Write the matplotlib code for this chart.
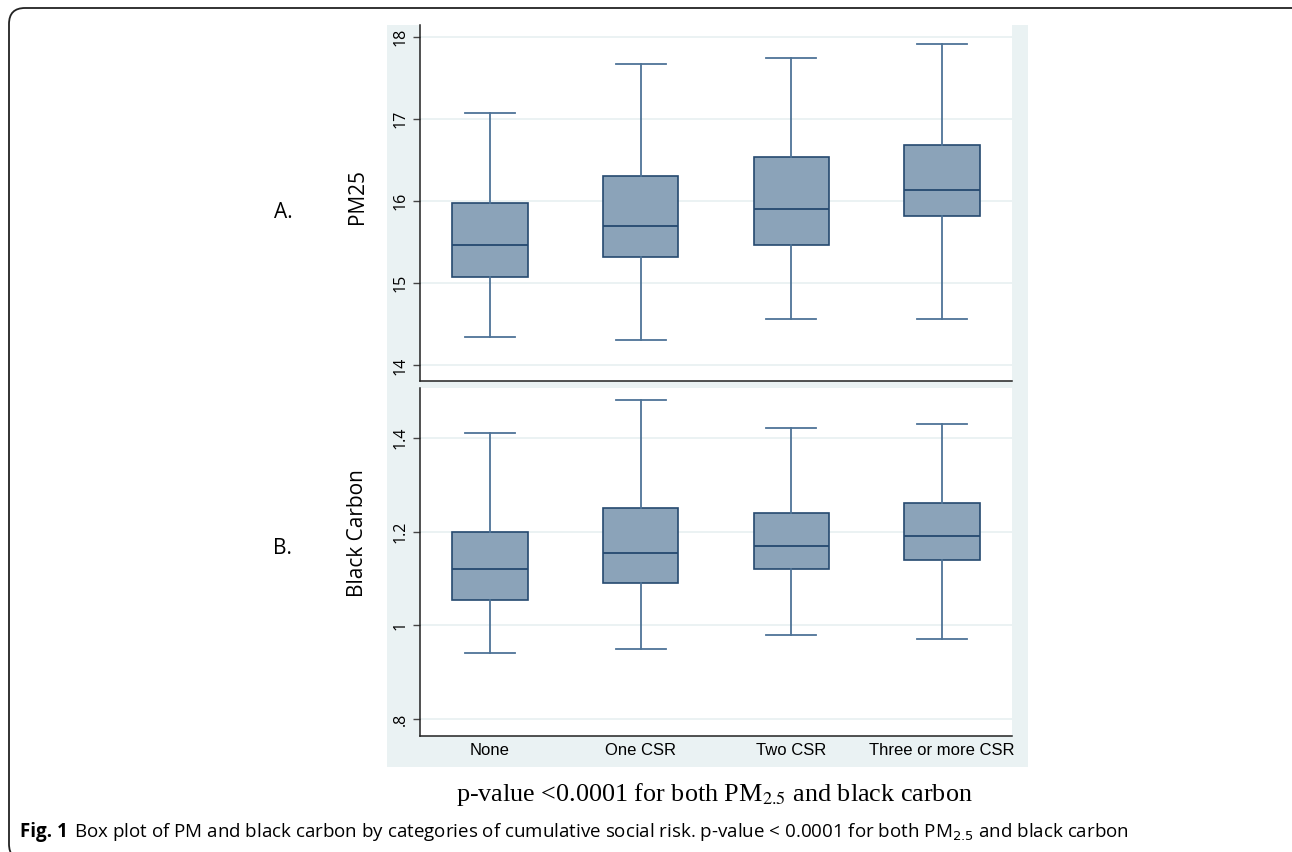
import matplotlib
matplotlib.use("Agg")
import matplotlib.pyplot as plt
from matplotlib.patches import Rectangle, FancyBboxPatch
from matplotlib.transforms import IdentityTransform

categories = ["None", "One CSR", "Two CSR", "Three or more CSR"]

# PM2.5 box statistics
pm_whislo = [14.35, 14.31, 14.56, 14.57]
pm_q1 = [15.08, 15.32, 15.46, 15.82]
pm_med = [15.46, 15.69, 15.90, 16.13]
pm_q3 = [15.97, 16.30, 16.53, 16.68]
pm_whishi = [17.07, 17.66, 17.74, 17.91]
pm_ticks = [14, 15, 16, 17, 18]
pm_ticklabels = ["14", "15", "16", "17", "18"]

# Black carbon box statistics
bc_whislo = [0.94, 0.95, 0.98, 0.97]
bc_q1 = [1.055, 1.09, 1.12, 1.14]
bc_med = [1.12, 1.155, 1.17, 1.19]
bc_q3 = [1.20, 1.25, 1.24, 1.26]
bc_whishi = [1.41, 1.48, 1.42, 1.43]
bc_ticks = [0.8, 1.0, 1.2, 1.4]
bc_ticklabels = [".8", "1", "1.2", "1.4"]

W, H = 1292, 852
fig = plt.figure(figsize=(W / 100, H / 100), dpi=100)
fig.patch.set_facecolor("white")

def fx(px):
    return px / W

def fy(py):
    return 1 - py / H

# Rounded outer border (pixel coordinates, origin bottom-left)
border = FancyBboxPatch((9, H - 860), 1300, 860 - 8,
                        boxstyle="round,pad=0,rounding_size=16",
                        transform=IdentityTransform(), fill=False,
                        edgecolor="#222222", linewidth=1.3, zorder=-2)
fig.patches.append(border)

# Stata-like graph region
gray = Rectangle((fx(387), fy(767)), fx(1028) - fx(387), fy(25) - fy(767),
                 transform=fig.transFigure, facecolor="#EAF2F3",
                 edgecolor="none", zorder=-1)
fig.patches.append(gray)

BOX_FACE = "#8BA3B9"
BOX_EDGE = "#25496F"
WHISK = "#4E7397"
GRID = "#E8F0F1"

def draw(ax, lo, q1, med, q3, hi, ticks, ticklabels, ylim):
    stats = []
    for i in range(len(categories)):
        stats.append(dict(whislo=lo[i], q1=q1[i], med=med[i], q3=q3[i],
                          whishi=hi[i], fliers=[], label=categories[i]))
    ax.set_zorder(2)
    ax.set_facecolor("white")
    ax.bxp(stats, positions=[1, 2, 3, 4], widths=0.5, capwidths=0.33,
           showfliers=False, patch_artist=True,
           boxprops=dict(facecolor=BOX_FACE, edgecolor=BOX_EDGE, linewidth=1.2),
           medianprops=dict(color=BOX_EDGE, linewidth=1.3),
           whiskerprops=dict(color=WHISK, linewidth=1.3),
           capprops=dict(color=WHISK, linewidth=1.3))
    ax.set_xlim(0.535, 4.465)
    ax.set_ylim(*ylim)
    ax.set_yticks(ticks)
    ax.set_yticklabels(ticklabels, rotation=90, va="center",
                       fontfamily="Open Sans", fontsize=11.5)
    ax.tick_params(axis="y", length=5, width=1, color="#444444", pad=3)
    for g in ticks:
        ax.axhline(g, color=GRID, linewidth=1.2, zorder=0)
    for s in ["top", "right"]:
        ax.spines[s].set_visible(False)
    for s in ["left", "bottom"]:
        ax.spines[s].set_color("#222222")
        ax.spines[s].set_linewidth(1.1)

ax1 = fig.add_axes([fx(420), fy(381), fx(1012) - fx(420), fy(25) - fy(381)])
draw(ax1, pm_whislo, pm_q1, pm_med, pm_q3, pm_whishi, pm_ticks, pm_ticklabels,
     (13.81, 18.14))
ax1.set_xticks([])

ax2 = fig.add_axes([fx(420), fy(736), fx(1012) - fx(420), fy(388) - fy(736)])
draw(ax2, bc_whislo, bc_q1, bc_med, bc_q3, bc_whishi, bc_ticks, bc_ticklabels,
     (0.764, 1.506))
ax2.set_xticks([1, 2, 3, 4])
ax2.set_xticklabels(categories, fontfamily="Liberation Sans", fontsize=12)
ax2.tick_params(axis="x", length=0, pad=5)

# Y axis titles
fig.text(fx(357), fy(196), "PM25", rotation=90, ha="center", va="center",
         fontfamily="Open Sans", fontsize=15)
fig.text(fx(357), fy(533), "Black Carbon", rotation=90, ha="center", va="center",
         fontfamily="Open Sans", fontsize=15)

# Panel letters
fig.text(fx(283), fy(212), "A.", ha="center", va="center",
         fontfamily="Open Sans", fontsize=15)
fig.text(fx(282), fy(549), "B.", ha="center", va="center",
         fontfamily="Open Sans", fontsize=15)

# Subtitle (serif)
fig.text(fx(714), fy(795), r"p-value <0.0001 for both PM$_{2.5}$ and black carbon",
         ha="center", va="center", fontfamily="Liberation Serif", fontsize=18.8,
         math_fontfamily="stix")

# Caption
t1 = fig.text(fx(20), fy(832), "Fig. 1", ha="left", va="center",
              fontfamily="Open Sans", fontweight="bold", fontsize=13.5)
renderer = fig.canvas.get_renderer()
bb = t1.get_window_extent(renderer=renderer)
fig.text((bb.x1 + 6) / W, fy(832),
         r"Box plot of PM and black carbon by categories of cumulative social risk. "
         r"p-value < 0.0001 for both PM$_{2.5}$ and black carbon",
         ha="left", va="center", fontfamily="Open Sans", fontsize=13.5,
         math_fontfamily="dejavusans")

fig.savefig("out.png", dpi=100)
